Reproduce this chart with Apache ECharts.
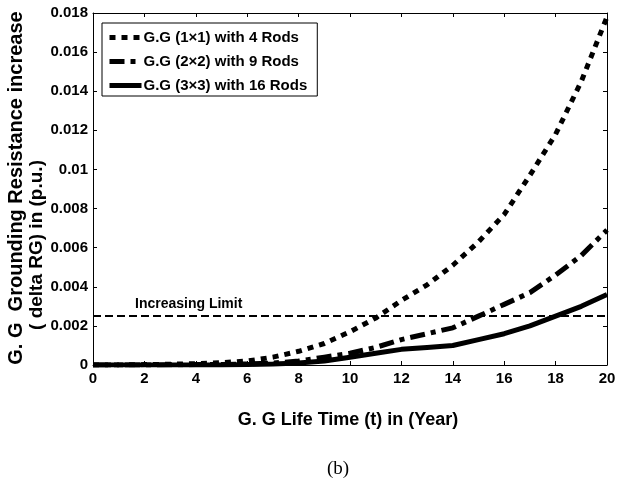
<!DOCTYPE html>
<html>
<head>
<meta charset="utf-8">
<script src="https://cdn.jsdelivr.net/npm/echarts@6/dist/echarts.min.js"></script>
<style>
html,body{margin:0;padding:0;background:#fff;}
#chart{width:625px;height:484px;}
</style>
</head>
<body>
<div id="chart"></div>
<script>
// ---- data ----
const years = [0,1,2,3,4,5,6,7,8,9,10,11,12,13,14,15,16,17,18,19,20];
const rg1x1 = [0,0,0.00002,0.00004,0.00007,0.00012,0.0002,0.0004,0.0007,0.0011,0.0017,0.0024,0.0033,0.0041,0.0051,0.0063,0.0077,0.0097,0.0118,0.0145,0.0178];
const rg2x2 = [0,0,0,0.00001,0.00002,0.00003,0.00005,0.0001,0.0002,0.0004,0.0006,0.0009,0.0013,0.0016,0.0019,0.0025,0.0031,0.0037,0.0046,0.0056,0.0069];
const rg3x3 = [0,0,0,0,0,0,0.00002,0.00005,0.0001,0.0002,0.0004,0.0006,0.0008,0.0009,0.0010,0.0013,0.0016,0.0020,0.0025,0.0030,0.0036];
const limitYears = [0, 20];
const limitValue = 0.0025;
const seriesNames = ['G.G (1×1) with 4 Rods', 'G.G (2×2) with 9 Rods', 'G.G (3×3) with 16 Rods'];
const xTitle = 'G. G Life Time (t) in (Year)';
const yTitle1 = 'G. G  Grounding Resistance increase';
const yTitle2 = '( delta RG) in (p.u.)';
const limitLabel = 'Increasing Limit';
const panelLabel = '(b)';

const pairs = (xs, ys) => xs.map((x, i) => [x, ys[i]]);
const FONT = 'Liberation Sans, Arial, sans-serif';

const chart = echarts.init(document.getElementById('chart'), null, {renderer: 'canvas'});

const tickCommon = {show: true, inside: true, length: 4, lineStyle: {color: '#000', width: 1}};
const axisLineCommon = {show: true, onZero: false, lineStyle: {color: '#000', width: 1}};

chart.setOption({
  animation: false,
  backgroundColor: '#fff',
  color: ['#000', '#000', '#000', '#000'],
  grid: {left: 93, right: 18, top: 13, bottom: 119, containLabel: false},
  xAxis: [{
    type: 'value', min: 0, max: 20, interval: 2, position: 'bottom',
    axisLine: axisLineCommon, axisTick: tickCommon, splitLine: {show: false},
    axisLabel: {color: '#000', fontFamily: FONT, fontWeight: 'bold', fontSize: 15, margin: 6}
  }, {
    type: 'value', min: 0, max: 20, interval: 2, position: 'top',
    axisLine: axisLineCommon, axisTick: tickCommon, splitLine: {show: false},
    axisLabel: {show: false}
  }],
  yAxis: [{
    type: 'value', min: 0, max: 0.018, interval: 0.002, position: 'left',
    axisLine: axisLineCommon, axisTick: tickCommon, splitLine: {show: false},
    axisLabel: {color: '#000', fontFamily: FONT, fontWeight: 'bold', fontSize: 15, margin: 5,
      formatter: v => String(parseFloat(v.toFixed(3)))}
  }, {
    type: 'value', min: 0, max: 0.018, interval: 0.002, position: 'right',
    axisLine: axisLineCommon, axisTick: tickCommon, splitLine: {show: false},
    axisLabel: {show: false}
  }],
  legend: {
    data: seriesNames,
    orient: 'vertical', left: 102, top: 23,
    padding: [7, 10, 3, 5], itemGap: 9, itemWidth: 32, itemHeight: 15,
    borderColor: '#000', borderWidth: 1, borderRadius: 0, backgroundColor: '#fff',
    itemStyle: {opacity: 0},
    lineStyle: {width: 5, color: '#000'},
    textStyle: {color: '#000', fontFamily: FONT, fontWeight: 'bold', fontSize: 15, padding: [0, 0, 0, -3]}
  },
  series: [{
    name: 'limit', type: 'line', symbol: 'none', silent: true,
    data: pairs(limitYears, limitYears.map(() => limitValue)),
    lineStyle: {color: '#000', width: 2, type: [8, 4]}, z: 1
  }, {
    name: seriesNames[0], type: 'line', symbol: 'none', itemStyle: {color: '#000'},
    data: pairs(years, rg1x1),
    lineStyle: {color: '#000', width: 5, type: [6, 6], cap: 'butt'}, z: 3
  }, {
    name: seriesNames[1], type: 'line', symbol: 'none', itemStyle: {color: '#000'},
    data: pairs(years, rg2x2),
    lineStyle: {color: '#000', width: 5, type: [15, 6, 5, 6], cap: 'butt'}, z: 3
  }, {
    name: seriesNames[2], type: 'line', symbol: 'none', itemStyle: {color: '#000'},
    data: pairs(years, rg3x3),
    lineStyle: {color: '#000', width: 5, type: 'solid'}, z: 3
  }],
  graphic: [
    {type: 'text', left: 135, top: 297, style: {text: limitLabel, fill: '#000', font: 'bold 14px ' + FONT}},
    {type: 'text', x: 16, y: 188, rotation: Math.PI / 2,
      style: {text: yTitle1, fill: '#000', font: 'bold 20px ' + FONT, align: 'center', verticalAlign: 'middle'}},
    {type: 'text', x: 37, y: 245, rotation: Math.PI / 2,
      style: {text: yTitle2, fill: '#000', font: 'bold 19px ' + FONT, align: 'center', verticalAlign: 'middle'}},
    {type: 'text', x: 348, y: 420,
      style: {text: xTitle, fill: '#000', font: 'bold 18px ' + FONT, align: 'center', verticalAlign: 'middle'}},
    {type: 'text', x: 338, y: 469,
      style: {text: panelLabel, fill: '#000', font: '19px Liberation Serif, Times New Roman, serif', align: 'center', verticalAlign: 'middle'}}
  ]
});
</script>
</body>
</html>
